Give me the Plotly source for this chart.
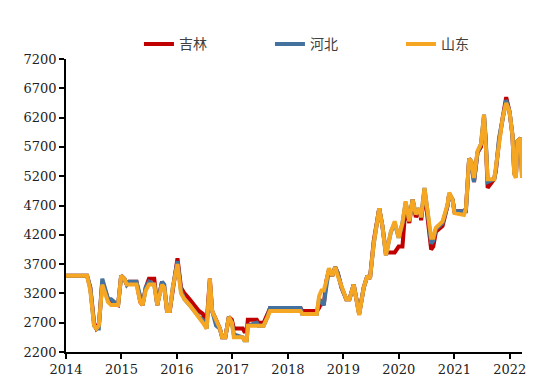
import plotly.graph_objects as go

dates = [
    "2014-01-01", "2014-05-20", "2014-06-10", "2014-07-05", "2014-07-20", "2014-08-05",
    "2014-08-28", "2014-09-20", "2014-10-05", "2014-10-25", "2014-12-10", "2014-12-30",
    "2015-01-20", "2015-02-05", "2015-02-20", "2015-04-10", "2015-05-05", "2015-05-20",
    "2015-06-10", "2015-07-01", "2015-08-05", "2015-08-25", "2015-09-25", "2015-10-10",
    "2015-10-28", "2015-11-15", "2015-12-05", "2015-12-20", "2016-01-05", "2016-01-28",
    "2016-02-20", "2016-03-25", "2016-04-25", "2016-05-25", "2016-06-20", "2016-07-15",
    "2016-08-05", "2016-08-20", "2016-09-15", "2016-10-10", "2016-10-25", "2016-11-15",
    "2016-12-08", "2016-12-28", "2017-01-10", "2017-03-10", "2017-03-20", "2017-04-05",
    "2017-04-12", "2017-06-10", "2017-06-20", "2017-07-25", "2017-08-20", "2017-09-05",
    "2018-03-25", "2018-04-05", "2018-07-10", "2018-07-25", "2018-08-10", "2018-08-25",
    "2018-09-10", "2018-09-28", "2018-10-20", "2018-11-08", "2018-11-25", "2018-12-20",
    "2019-01-20", "2019-02-10", "2019-03-10", "2019-04-15", "2019-05-15", "2019-06-08",
    "2019-06-25", "2019-07-20", "2019-08-25", "2019-09-15", "2019-10-08", "2019-11-10",
    "2019-12-05", "2019-12-31", "2020-01-25", "2020-02-15", "2020-03-10", "2020-04-01",
    "2020-04-22", "2020-05-15", "2020-05-27", "2020-06-18", "2020-07-10", "2020-07-20",
    "2020-08-01", "2020-08-15", "2020-09-01", "2020-10-15", "2020-11-17", "2020-11-28",
    "2020-12-20", "2021-01-01", "2021-03-05", "2021-03-18", "2021-04-08", "2021-04-22",
    "2021-05-10", "2021-06-02", "2021-06-25", "2021-07-15", "2021-07-26", "2021-08-08",
    "2021-09-20", "2021-10-01", "2021-10-22", "2021-11-15", "2021-12-08", "2021-12-30",
    "2022-01-18", "2022-01-30", "2022-02-10", "2022-02-20", "2022-03-12", "2022-03-22",
]

jilin = [
    3500, 3500, 3300, 2700, 2600, 2650, 3400, 3200, 3100, 3050, 3000, 3500,
    3450, 3350, 3400, 3400, 3050, 3000, 3300, 3450, 3450, 3000, 3400, 3300,
    2900, 2900, 3300, 3550, 3800, 3300, 3200, 3100, 3000, 2900, 2850, 2700,
    3450, 2900, 2750, 2600, 2450, 2450, 2800, 2750, 2600, 2600, 2550, 2550,
    2750, 2750, 2700, 2700, 2850, 2950, 2950, 2900, 2900, 2950, 3050, 3000,
    3400, 3600, 3500, 3650, 3550, 3300, 3100, 3100, 3350, 2850, 3300, 3500,
    3450, 4100, 4650, 4350, 3900, 3900, 3900, 4000, 4000, 4700, 4400, 4800,
    4500, 4650, 4450, 4950, 4500, 4250, 3950, 4000, 4250, 4350, 4700, 4900,
    4800, 4600, 4600, 4650, 5500, 5450, 5100, 5600, 5700, 6200, 5800, 5000,
    5150, 5300, 5800, 6200, 6550, 6300, 5900, 5250, 5200, 5800, 5850, 5250,
]

hebei = [
    3500, 3500, 3300, 2650, 2600, 2600, 3450, 3250, 3100, 3100, 3000, 3500,
    3450, 3350, 3400, 3400, 3100, 3000, 3300, 3400, 3350, 3000, 3400, 3350,
    2900, 2900, 3300, 3550, 3750, 3250, 3100, 3000, 2900, 2800, 2750, 2600,
    3400, 2900, 2650, 2600, 2450, 2450, 2800, 2700, 2500, 2450, 2400, 2400,
    2650, 2700, 2650, 2650, 2800, 2950, 2950, 2850, 2850, 3100, 3050, 3000,
    3300, 3600, 3500, 3650, 3550, 3300, 3100, 3100, 3350, 2850, 3300, 3500,
    3450, 4050, 4650, 4350, 3850, 4250, 4400, 4150, 4400, 4750, 4450, 4800,
    4550, 4650, 4500, 5000, 4550, 4300, 4050, 4100, 4300, 4400, 4700, 4900,
    4800, 4600, 4600, 4600, 5500, 5450, 5100, 5600, 5750, 6250, 5850, 5100,
    5150, 5300, 5850, 6200, 6500, 6300, 5900, 5250, 5200, 5800, 5850, 5200,
]

shandong = [
    3500, 3500, 3250, 2650, 2600, 2650, 3350, 3150, 3050, 3000, 3000, 3500,
    3450, 3350, 3350, 3350, 3050, 3000, 3250, 3350, 3350, 3000, 3350, 3300,
    2900, 2900, 3300, 3500, 3700, 3200, 3100, 3000, 2900, 2800, 2700, 2600,
    3450, 2900, 2750, 2600, 2450, 2450, 2800, 2700, 2450, 2450, 2400, 2400,
    2650, 2650, 2650, 2650, 2800, 2900, 2900, 2850, 2850, 3150, 3250, 3250,
    3400, 3630, 3500, 3650, 3500, 3300, 3100, 3100, 3350, 2830, 3300, 3500,
    3450, 4050, 4650, 4350, 3850, 4250, 4430, 4150, 4400, 4770, 4430, 4800,
    4550, 4650, 4500, 5000, 4550, 4300, 4150, 4150, 4320, 4430, 4720, 4920,
    4800, 4570, 4540, 4650, 5500, 5450, 5170, 5630, 5750, 6250, 5850, 5150,
    5150, 5350, 5850, 6200, 6450, 6300, 5900, 5230, 5170, 5800, 5850, 5170,
]

y_ticks = [2200, 2700, 3200, 3700, 4200, 4700, 5200, 5700, 6200, 6700, 7200]
x_ticks = ["2014-01-01", "2015-01-01", "2016-01-01", "2017-01-01", "2018-01-01",
           "2019-01-01", "2020-01-01", "2021-01-01", "2022-01-01"]
x_labels = ["2014", "2015", "2016", "2017", "2018", "2019", "2020", "2021", "2022"]

series = [("吉林", jilin, "#C00000"), ("河北", hebei, "#44729E"), ("山东", shandong, "#F5A623")]

fig = go.Figure()
for name, vals, color in series:
    fig.add_trace(go.Scatter(x=dates, y=vals, name=name, mode="lines",
                             line=dict(color=color, width=4)))

tick_font = dict(family="DejaVu Serif", size=13, color="#222222")

fig.update_layout(
    width=550, height=387,
    margin=dict(l=58, r=36, t=51, b=43),
    paper_bgcolor="white", plot_bgcolor="white",
    showlegend=True,
    legend=dict(orientation="h", x=0.16, xanchor="left", y=1.05, yanchor="middle",
                font=dict(family="Noto Sans CJK SC", size=14, color="#404040"),
                entrywidth=86, entrywidthmode="pixels", bgcolor="rgba(0,0,0,0)"),
    font=dict(family="DejaVu Serif", size=13, color="#222222"),
)
fig.update_xaxes(type="date", range=["2014-01-01", "2022-03-22"],
                 tickvals=x_ticks, ticktext=x_labels,
                 showline=True, linecolor="black", linewidth=1.5,
                 ticks="outside", ticklen=5, tickcolor="black", tickwidth=1.5,
                 showgrid=False, zeroline=False, tickfont=tick_font)
fig.update_yaxes(range=[2200, 7200], tickvals=y_ticks,
                 showline=True, linecolor="black", linewidth=1.5,
                 ticks="outside", ticklen=5, tickcolor="black", tickwidth=1.5,
                 showgrid=False, zeroline=False, tickfont=tick_font)

fig.write_html("out.html")
